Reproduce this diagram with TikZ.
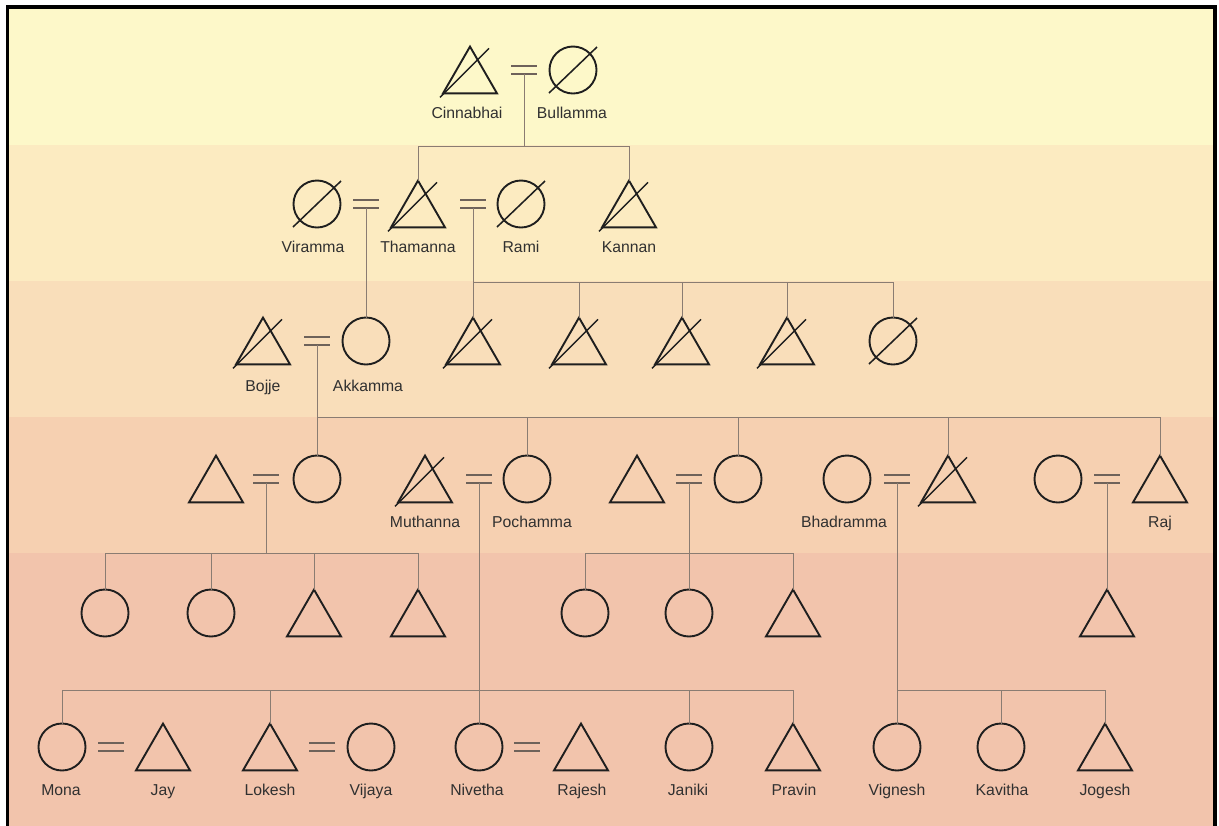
\documentclass[tikz,border=0pt]{standalone}
\usepackage{fontspec}
\setmainfont{Liberation Sans}
\usetikzlibrary{shapes.geometric,calc}

\definecolor{bandA}{HTML}{FDF8C9}
\definecolor{bandB}{HTML}{FCEBC1}
\definecolor{bandC}{HTML}{F9DEBA}
\definecolor{bandD}{HTML}{F6D0B1}
\definecolor{bandE}{HTML}{F2C4AC}
\definecolor{kinline}{HTML}{8A7C72}
\definecolor{wedline}{HTML}{6E625A}
\definecolor{namegray}{HTML}{303030}

\tikzset{
  person/.style={draw=black!88, line width=1.35pt, inner sep=0pt, outer sep=0pt},
  male/.style={person, regular polygon, regular polygon sides=3, minimum size=1.56cm, yshift=-0.195cm},
  female/.style={person, circle, minimum size=1.175cm},
  slash/.style={draw=black!88, line width=1.1pt},
  kin/.style={draw=kinline, line width=0.65pt},
  wed/.style={draw=wedline, line width=0.9pt},
  nm/.style={anchor=base, inner sep=0pt, text=namegray, font=\fontsize{11.2}{13}\selectfont},
}

\begin{document}
\begin{tikzpicture}[x=0.025cm, y=-0.025cm]
\useasboundingbox (0,0) rectangle (1219,825);
\fill[white] (0,0) rectangle (1219,825);

% generation bands
\fill[bandA] (7,7) rectangle (1215,145);
\fill[bandB] (7,145) rectangle (1215,281);
\fill[bandC] (7,281) rectangle (1215,417);
\fill[bandD] (7,417) rectangle (1215,553);
\fill[bandE] (7,553) rectangle (1215,830);
\draw[line width=2.8pt] (7.5,840) -- (7.5,7) -- (1215,7) -- (1215,840);

% sibling bar heights
\coordinate (bar1) at (0,146);
\coordinate (bar2) at (0,282);
\coordinate (bar3) at (0,417);
\coordinate (bar4) at (0,553);
\coordinate (bar5) at (0,690);

% generation 1
\node[male] (cin) at (470,70) {};
\node[female] (bul) at (573,70) {};
\node[nm] (lcin) at (467,118) {Cinnabhai};
\node[nm] (lbul) at (572,118) {Bullamma};

% generation 2
\node[female] (vir) at (317,204) {};
\node[male] (tha) at (418,204) {};
\node[female] (ram) at (521,204) {};
\node[male] (kan) at (629,204) {};
\node[nm] (lvir) at (313,252) {Viramma};
\node[nm] (ltha) at (418,252) {Thamanna};
\node[nm] (lram) at (521,252) {Rami};
\node[nm] (lkan) at (629,252) {Kannan};

% generation 3
\node[male] (boj) at (263,341) {};
\node[female] (akk) at (366,341) {};
\foreach \i/\x in {1/473,2/579,3/682,4/787}
  \node[male] (tr\i) at (\x,341) {};
\node[female] (tr5) at (893,341) {};
\node[nm] (lboj) at (263,391) {Bojje};
\node[nm] (lakk) at (368,391) {Akkamma};

% generation 4
\node[male] (husA) at (216,479) {};
\node[female] (dauA) at (317,479) {};
\node[male] (mut) at (425,479) {};
\node[female] (poc) at (527,479) {};
\node[male] (husC) at (637,479) {};
\node[female] (dauC) at (738,479) {};
\node[female] (bha) at (847,479) {};
\node[male] (sonD) at (948,479) {};
\node[female] (wifE) at (1058,479) {};
\node[male] (raj) at (1160,479) {};
\node[nm] (lmut) at (425,527) {Muthanna};
\node[nm] (lpoc) at (532,527) {Pochamma};
\node[nm] (lbha) at (844,527) {Bhadramma};
\node[nm] (lraj) at (1160,527) {Raj};

% generation 5
\node[female] (a1) at (105,613) {};
\node[female] (a2) at (211,613) {};
\node[male] (a3) at (314,613) {};
\node[male] (a4) at (418,613) {};
\node[female] (c1) at (585,613) {};
\node[female] (c2) at (689,613) {};
\node[male] (c3) at (793,613) {};
\node[male] (e1) at (1107,613) {};

% generation 6
\node[female] (mon) at (62,747) {};
\node[male] (jay) at (163,747) {};
\node[male] (lok) at (270,747) {};
\node[female] (vij) at (371,747) {};
\node[female] (niv) at (479,747) {};
\node[male] (rjs) at (581,747) {};
\node[female] (jan) at (689,747) {};
\node[male] (pra) at (793,747) {};
\node[female] (vig) at (897,747) {};
\node[female] (kav) at (1001,747) {};
\node[male] (jog) at (1105,747) {};
\foreach \n/\x/\t in {lmon/61/Mona, ljay/163/Jay, llok/270/Lokesh, lvij/371/Vijaya,
    lniv/477/Nivetha, lrjs/582/Rajesh, ljan/688/Janiki, lpra/794/Pravin,
    lvig/897/Vignesh, lkav/1002/Kavitha, ljog/1105/Jogesh}
  \node[nm] (\n) at (\x,795) {\t};

% deceased
\foreach \n in {cin,tha,kan,boj,tr1,tr2,tr3,tr4,mut,sonD}
  \draw[slash] ($(\n.corner 2)+(-3,4)$) -- ++(49,-49);
\foreach \n in {bul,vir,ram,tr5}
  \draw[slash] ($(\n.center)+(-24,23)$) -- ($(\n.center)+(24,-23)$);

% marriages
\foreach \m/\x/\y in {mCB/524/70, mVT/366/204, mTR/473/204, mBA/317/341,
    mA/266/479, mMP/479/479, mC/689/479, mBS/897/479, mE/1107/479,
    mMJ/111/747, mLV/322/747, mNR/527/747}
{
  \draw[wed] (\x-13,\y-4) -- ++(26,0) (\x-13,\y+4) -- ++(26,0);
  \coordinate (\m) at (\x,\y+4);
}

% descent lines
\draw[kin] (mCB) -- (mCB |- bar1);
\draw[kin] (tha.north) |- (kan.north |- bar1) -- (kan.north);

\draw[kin] (mVT) -- (akk.north);

\draw[kin] (mTR) -- (tr1.north);
\draw[kin] (tr1.north |- bar2) -- (tr5.north |- bar2);
\foreach \n in {tr2,tr3,tr4,tr5}
  \draw[kin] (\n.north |- bar2) -- (\n.north);

\draw[kin] (mBA) -- (dauA.north);
\draw[kin] (dauA.north |- bar3) -- (raj.north |- bar3);
\foreach \n in {poc,dauC,sonD,raj}
  \draw[kin] (\n.north |- bar3) -- (\n.north);

\draw[kin] (mA) -- (mA |- bar4);
\draw[kin] (a1.north |- bar4) -- (a4.north |- bar4);
\foreach \n in {a1,a2,a3,a4}
  \draw[kin] (\n.north |- bar4) -- (\n.north);

\draw[kin] (mC) -- (c2.north);
\draw[kin] (c1.north) |- (c3.north |- bar4) -- (c3.north);

\draw[kin] (mE) -- (e1.north);

\draw[kin] (mMP) -- (niv.north);
\draw[kin] (mon.north) |- (pra.north |- bar5) -- (pra.north);
\foreach \n in {lok,jan}
  \draw[kin] (\n.north |- bar5) -- (\n.north);

\draw[kin] (mBS) -- (vig.north);
\draw[kin] (vig.north |- bar5) -- (jog.north |- bar5) -- (jog.north);
\draw[kin] (kav.north |- bar5) -- (kav.north);
\end{tikzpicture}
\end{document}
